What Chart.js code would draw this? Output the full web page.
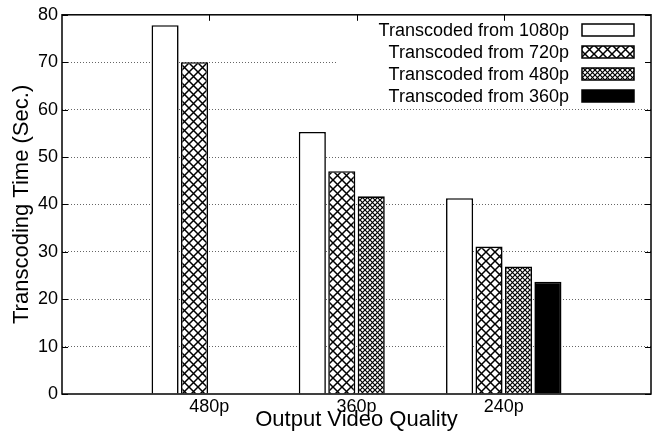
<!DOCTYPE html>
<html>
<head>
<meta charset="utf-8">
<script src="https://cdn.jsdelivr.net/npm/chart.js@4/dist/chart.umd.min.js"></script>
<style>
  body { margin: 0; background: #fff; }
  #wrap { width: 659px; height: 439px; }
</style>
</head>
<body>
<div id="wrap"><canvas id="myChart" width="659" height="439"></canvas></div>
<script>
var categories = ["480p", "360p", "240p"];
var seriesNames = ["Transcoded from 1080p", "Transcoded from 720p", "Transcoded from 480p", "Transcoded from 360p"];
var from1080 = [77.8, 55.3, 41.3];
var from720 = [70.0, 47.0, 31.1];
var from480 = [null, 41.7, 26.9];
var from360 = [null, null, 23.7];
var yTicks = [0, 10, 20, 30, 40, 50, 60, 70, 80];

var FONT = "'Liberation Sans', Arial, sans-serif";
var canvas = document.getElementById("myChart");
var ctx = canvas.getContext("2d");

function hatch(size, lw) {
  var c = document.createElement("canvas");
  c.width = size; c.height = size;
  var g = c.getContext("2d");
  g.fillStyle = "#fff";
  g.fillRect(0, 0, size, size);
  g.strokeStyle = "#000";
  g.lineWidth = lw;
  g.beginPath();
  g.moveTo(-1, -1); g.lineTo(size + 1, size + 1);
  g.moveTo(size + 1, -1); g.lineTo(-1, size + 1);
  g.stroke();
  return ctx.createPattern(c, "repeat");
}

var fills = ["#ffffff", hatch(9, 1.5), hatch(5, 1.2), "#000000"];

// empty slot on each side so the x range runs from -1 to 3 like the original
var labels = [""].concat(categories, [""]);
function pad(arr) { return [null].concat(arr, [null]); }

var seriesData = [from1080, from720, from480, from360];
var datasets = seriesData.map(function (d, i) {
  return {
    label: seriesNames[i],
    data: pad(d),
    backgroundColor: fills[i],
    borderColor: "#000",
    borderWidth: 1.6,
    categoryPercentage: 0.8,
    barPercentage: 0.92
  };
});

var framePlugin = {
  id: "frame",
  afterDraw: function (chart) {
    var a = chart.chartArea, g = chart.ctx;
    var xs = chart.scales.x, ys = chart.scales.y;
    g.save();

    // legend (text right aligned, swatch on the right)
    g.fillStyle = "#fff";
    g.fillRect(336, a.top + 1, a.right - 337, 92);
    g.font = "18px " + FONT;
    g.textAlign = "right";
    g.textBaseline = "middle";
    chart.data.datasets.forEach(function (ds, i) {
      var cy = 30 + 22 * i;
      g.fillStyle = "#000";
      g.fillText(ds.label, 569, cy + 1);
      g.fillStyle = ds.backgroundColor;
      g.fillRect(582, cy - 6, 52, 12);
      g.strokeStyle = "#000";
      g.lineWidth = 1.5;
      g.strokeRect(582, cy - 6, 52, 12);
    });

    // inward ticks
    g.strokeStyle = "#000";
    g.lineWidth = 1;
    g.beginPath();
    yTicks.forEach(function (v) {
      var y = Math.round(ys.getPixelForValue(v)) + 0.5;
      g.moveTo(a.left, y); g.lineTo(a.left + 6, y);
      g.moveTo(a.right, y); g.lineTo(a.right - 6, y);
    });
    categories.forEach(function (c, i) {
      var x = Math.round(xs.getPixelForValue(i + 1)) + 0.5;
      g.moveTo(x, a.top); g.lineTo(x, a.top + 6);
    });
    g.stroke();

    // border box
    g.lineWidth = 1.5;
    g.strokeRect(a.left, a.top, a.right - a.left, a.bottom - a.top);
    g.restore();
  }
};

new Chart(canvas, {
  type: "bar",
  data: { labels: labels, datasets: datasets },
  options: {
    responsive: false,
    animation: false,
    layout: { padding: { top: 14, right: 8, left: 0, bottom: 0 } },
    plugins: {
      legend: { display: false },
      tooltip: { enabled: false }
    },
    scales: {
      x: {
        offset: false,
        grid: { display: false, drawTicks: false },
        border: { display: false },
        ticks: {
          autoSkip: false, maxRotation: 0, padding: 2,
          color: "#000", font: { family: FONT, size: 18 }
        },
        title: {
          display: true, text: "Output Video Quality", color: "#000",
          font: { family: FONT, size: 22, lineHeight: 1.7 }, padding: 0
        },
        afterFit: function (s) { s.height = 45; }
      },
      y: {
        min: 0, max: 80,
        afterBuildTicks: function (s) { s.ticks = yTicks.map(function (v) { return { value: v }; }); },
        grid: {
          drawTicks: false,
          color: function (c) { return (c.tick && (c.tick.value === 0 || c.tick.value === 80)) ? "rgba(0,0,0,0)" : "#666"; },
          lineWidth: 1
        },
        border: { display: false, dash: [1, 2] },
        ticks: { padding: 4, color: "#000", font: { family: FONT, size: 18 } },
        title: {
          display: true, text: "Transcoding Time (Sec.)", color: "#000",
          font: { family: FONT, size: 22, lineHeight: 2.0 }, padding: 0
        },
        afterFit: function (s) { s.width = 62; }
      }
    }
  },
  plugins: [framePlugin]
});
</script>
</body>
</html>
